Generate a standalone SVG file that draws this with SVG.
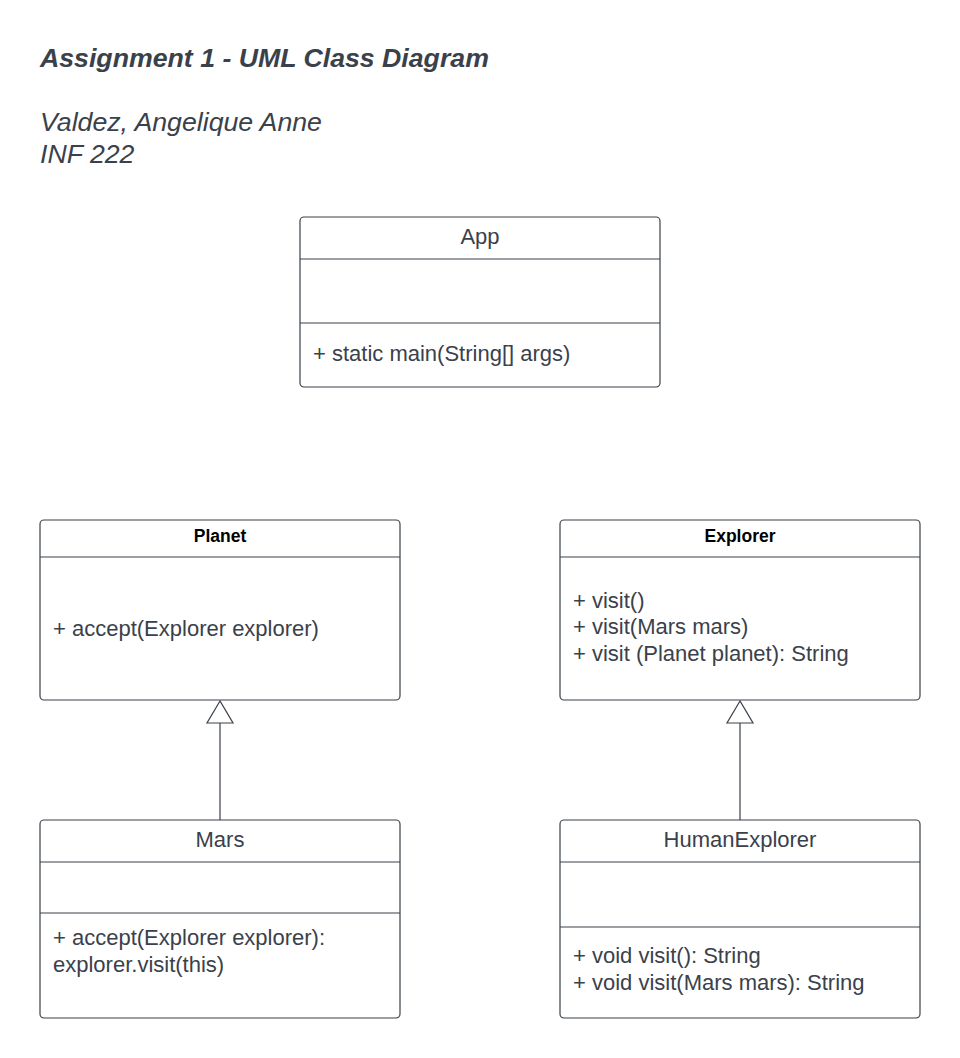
<svg xmlns="http://www.w3.org/2000/svg" width="960" height="1058" viewBox="0 0 960 1058">
<style>
.box{fill:#fff;stroke:#3a414a;stroke-width:1.2}
.ln{stroke:#3a414a;stroke-width:1.2;fill:none}
.t{font-family:"Liberation Sans",Arial,sans-serif;font-size:22px;fill:#3a414a}
.c{text-anchor:middle}
.h{font-family:"Liberation Sans",Arial,sans-serif;font-size:17.5px;font-weight:bold;fill:#000;text-anchor:middle}
.ti{font-family:"Liberation Sans",Arial,sans-serif;font-size:26.7px;font-style:italic;fill:#3a414a}
</style>
<rect width="960" height="1058" fill="#fff"/>
<g id="title">
<text class="ti" x="40" y="67" font-weight="bold" font-size="26.6">Assignment 1 - UML Class Diagram</text>
<text class="ti" x="40" y="131">Valdez, Angelique Anne</text>
<text class="ti" x="40" y="163">INF 222</text>
</g>
<g id="connectors">
<line class="ln" x1="220" y1="723" x2="220" y2="820"/>
<polygon class="box" points="220,701 207,723 233,723"/>
<line class="ln" x1="740" y1="723" x2="740" y2="820"/>
<polygon class="box" points="740,701 727,723 753,723"/>
</g>
<g id="App">
<rect class="box" x="300" y="217" width="360" height="170" rx="4"/>
<line class="ln" x1="300" y1="259" x2="660" y2="259"/>
<line class="ln" x1="300" y1="323" x2="660" y2="323"/>
<text class="t c" x="480" y="244">App</text>
<text class="t" x="313" y="361">+ static main(String[] args)</text>
</g>
<g id="Planet">
<rect class="box" x="40" y="520" width="360" height="180" rx="4"/>
<line class="ln" x1="40" y1="557" x2="400" y2="557"/>
<text class="h" x="220" y="542">Planet</text>
<text class="t" x="53" y="636">+ accept(Explorer explorer)</text>
</g>
<g id="Explorer">
<rect class="box" x="560" y="520" width="360" height="180" rx="4"/>
<line class="ln" x1="560" y1="557" x2="920" y2="557"/>
<text class="h" x="740" y="542">Explorer</text>
<text class="t" x="573" y="608">+ visit()</text>
<text class="t" x="573" y="634">+ visit(Mars mars)</text>
<text class="t" x="573" y="661">+ visit (Planet planet): String</text>
</g>
<g id="Mars">
<rect class="box" x="40" y="820" width="360" height="198" rx="4"/>
<line class="ln" x1="40" y1="862" x2="400" y2="862"/>
<line class="ln" x1="40" y1="913" x2="400" y2="913"/>
<text class="t c" x="220" y="847">Mars</text>
<text class="t" x="53" y="945">+ accept(Explorer explorer):</text>
<text class="t" x="53" y="972">explorer.visit(this)</text>
</g>
<g id="HumanExplorer">
<rect class="box" x="560" y="820" width="360" height="198" rx="4"/>
<line class="ln" x1="560" y1="862" x2="920" y2="862"/>
<line class="ln" x1="560" y1="927" x2="920" y2="927"/>
<text class="t c" x="740" y="847">HumanExplorer</text>
<text class="t" x="573" y="963">+ void visit(): String</text>
<text class="t" x="573" y="990">+ void visit(Mars mars): String</text>
</g>
</svg>
